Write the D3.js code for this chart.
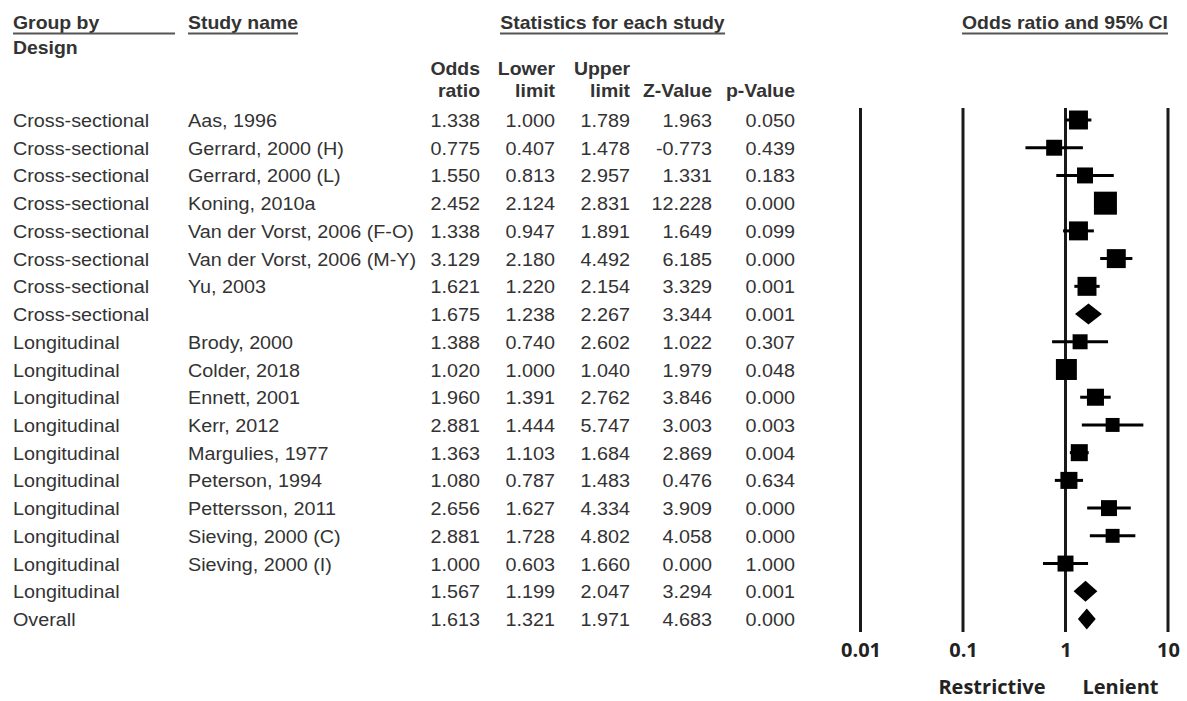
<!DOCTYPE html>
<html>
<head>
<meta charset="utf-8">
<script src="https://cdn.jsdelivr.net/npm/d3@7"></script>
<style>
  html, body { margin: 0; padding: 0; background: #ffffff; }
  svg { display: block; }
</style>
</head>
<body>
<svg id="forest" width="1187" height="701"></svg>
<script>
// ---- Data: meta-analysis of parenting (restrictive vs lenient), grouped by design ----
const designs = [
  "Cross-sectional", "Cross-sectional", "Cross-sectional", "Cross-sectional",
  "Cross-sectional", "Cross-sectional", "Cross-sectional", "Cross-sectional",
  "Longitudinal", "Longitudinal", "Longitudinal", "Longitudinal", "Longitudinal",
  "Longitudinal", "Longitudinal", "Longitudinal", "Longitudinal", "Longitudinal",
  "Overall"
];
const studyNames = [
  "Aas, 1996", "Gerrard, 2000 (H)", "Gerrard, 2000 (L)", "Koning, 2010a",
  "Van der Vorst, 2006 (F-O)", "Van der Vorst, 2006 (M-Y)", "Yu, 2003", "",
  "Brody, 2000", "Colder, 2018", "Ennett, 2001", "Kerr, 2012", "Margulies, 1977",
  "Peterson, 1994", "Pettersson, 2011", "Sieving, 2000 (C)", "Sieving, 2000 (I)", "",
  ""
];
const oddsRatio  = [1.338, 0.775, 1.550, 2.452, 1.338, 3.129, 1.621, 1.675, 1.388, 1.020, 1.960, 2.881, 1.363, 1.080, 2.656, 2.881, 1.000, 1.567, 1.613];
const lowerLimit = [1.000, 0.407, 0.813, 2.124, 0.947, 2.180, 1.220, 1.238, 0.740, 1.000, 1.391, 1.444, 1.103, 0.787, 1.627, 1.728, 0.603, 1.199, 1.321];
const upperLimit = [1.789, 1.478, 2.957, 2.831, 1.891, 4.492, 2.154, 2.267, 2.602, 1.040, 2.762, 5.747, 1.684, 1.483, 4.334, 4.802, 1.660, 2.047, 1.971];
const zValue     = [1.963, -0.773, 1.331, 12.228, 1.649, 6.185, 3.329, 3.344, 1.022, 1.979, 3.846, 3.003, 2.869, 0.476, 3.909, 4.058, 0.000, 3.294, 4.683];
const pValue     = [0.050, 0.439, 0.183, 0.000, 0.099, 0.000, 0.001, 0.001, 0.307, 0.048, 0.000, 0.003, 0.004, 0.634, 0.000, 0.000, 1.000, 0.001, 0.000];
// relative study weights (summary rows have none)
const relWeight  = [7.2, 5.1, 5.1, 10.6, 7.2, 7.2, 7.2, null, 4.5, 8.8, 5.8, 3.9, 5.8, 5.8, 5.1, 3.9, 5.1, null, null];

const axisTicks = [0.01, 0.1, 1, 10];
const axisTickLabels = ["0.01", "0.1", "1", "10"];
const directionLabels = ["Restrictive", "Lenient"];

const columnHeads = [
  { top: "Odds",  bottom: "ratio" },
  { top: "Lower", bottom: "limit" },
  { top: "Upper", bottom: "limit" },
  { top: "",      bottom: "Z-Value" },
  { top: "",      bottom: "p-Value" }
];

// ---- Layout ----
const svg = d3.select("#forest");
const bodyFont = "'Liberation Sans', Arial, sans-serif";
const bodySize = 17.5, bodySX = 1.13, headSX = 1.11;
const textColor = "#333";

const rows = d3.range(designs.length);
const y = d3.scalePoint().domain(rows).range([120, 619]);
const x = d3.scaleLog().domain([0.01, 10]).range([860.5, 1168]);
const side = d3.scaleSqrt().domain([0, 10.6]).range([0, 23]);

const colRight = [480, 555, 630, 712, 795];
const fmt = d3.formatLocale({ decimal: ".", thousands: ",", grouping: [3], currency: ["", ""], minus: "-" }).format(".3f");

function label(g, px, py, s, sx, anchor, bold) {
  return g.append("text")
    .attr("transform", `translate(${px},${py}) scale(${sx},1)`)
    .attr("text-anchor", anchor || "start")
    .attr("font-family", bodyFont)
    .attr("font-size", bodySize)
    .attr("font-weight", bold ? "bold" : "normal")
    .attr("fill", textColor)
    .text(s);
}

// ---- Header ----
const head = svg.append("g");
const underline = (x1, x2, yy) => head.append("line")
  .attr("x1", x1).attr("x2", x2).attr("y1", yy).attr("y2", yy)
  .attr("stroke", "#555").attr("stroke-width", 2);

label(head, 13, 29, "Group by", headSX, "start", true);
underline(13, 175, 33.5);
label(head, 13, 54, "Design", headSX, "start", true);

const studyHead = label(head, 188, 29, "Study name", headSX, "start", true);
underline(188, 188 + studyHead.node().getBBox().width * headSX, 33.5);

const statsHead = label(head, 612.5, 29, "Statistics for each study", headSX, "middle", true);
{
  const w = statsHead.node().getBBox().width * headSX;
  underline(612.5 - w / 2, 612.5 + w / 2, 33.5);
}

columnHeads.forEach((h, i) => {
  if (h.top) label(head, colRight[i], 75, h.top, headSX, "end", true);
  label(head, colRight[i], 97, h.bottom, headSX, "end", true);
});

const plotHead = label(head, 1065, 29, "Odds ratio and 95% CI", headSX, "middle", true);
{
  const w = plotHead.node().getBBox().width * headSX;
  underline(1065 - w / 2, 1065 + w / 2, 33.5);
}

// ---- Table body ----
const body = svg.append("g");
rows.forEach(i => {
  const by = y(i) + 7;
  label(body, 13, by, designs[i], bodySX);
  if (studyNames[i]) label(body, 188, by, studyNames[i], bodySX);
  [oddsRatio[i], lowerLimit[i], upperLimit[i], zValue[i], pValue[i]].forEach((v, c) => {
    label(body, colRight[c], by, fmt(v), bodySX, "end");
  });
});

// ---- Forest plot ----
const plot = svg.append("g");

// reference lines at each decade
plot.selectAll("line.ref")
  .data(axisTicks)
  .join("line")
  .attr("class", "ref")
  .attr("x1", d => x(d)).attr("x2", d => x(d))
  .attr("y1", 108).attr("y2", 632)
  .attr("stroke", "#1a1a1a").attr("stroke-width", 3);

const studyRows = rows.filter(i => relWeight[i] != null);
const summaryRows = rows.filter(i => relWeight[i] == null);

// confidence intervals
plot.selectAll("line.ci")
  .data(studyRows)
  .join("line")
  .attr("class", "ci")
  .attr("x1", i => x(lowerLimit[i])).attr("x2", i => x(upperLimit[i]))
  .attr("y1", i => y(i)).attr("y2", i => y(i))
  .attr("stroke", "#000").attr("stroke-width", 3);

// study point estimates, sized by weight
plot.selectAll("rect.est")
  .data(studyRows)
  .join("rect")
  .attr("class", "est")
  .attr("x", i => x(oddsRatio[i]) - side(relWeight[i]) / 2)
  .attr("y", i => y(i) - side(relWeight[i]) / 2)
  .attr("width", i => side(relWeight[i]))
  .attr("height", i => side(relWeight[i]))
  .attr("fill", "#000");

// pooled estimates as diamonds spanning the CI
const halfH = 10.5;
plot.selectAll("path.pooled")
  .data(summaryRows)
  .join("path")
  .attr("class", "pooled")
  .attr("d", i => {
    const yc = y(i);
    return `M${x(lowerLimit[i])},${yc} L${x(oddsRatio[i])},${yc - halfH} L${x(upperLimit[i])},${yc} L${x(oddsRatio[i])},${yc + halfH} Z`;
  })
  .attr("fill", "#000");

// axis labels
const axis = d3.axisBottom(x)
  .tickValues(axisTicks)
  .tickFormat((d, k) => axisTickLabels[k])
  .tickSize(0)
  .tickPadding(0);
const axisG = plot.append("g").attr("transform", "translate(0,643)").call(axis);
axisG.select(".domain").remove();
axisG.selectAll("text")
  .attr("dy", "0.71em")
  .attr("font-family", "'Open Sans', sans-serif")
  .attr("font-weight", "bold")
  .attr("font-size", 20)
  .attr("fill", "#222");

// direction labels either side of no effect
plot.append("text")
  .attr("x", x(1) - 20).attr("y", 694)
  .attr("text-anchor", "end")
  .attr("font-family", "'Open Sans', sans-serif")
  .attr("font-weight", "bold")
  .attr("font-size", 20)
  .attr("fill", "#222")
  .text(directionLabels[0]);
plot.append("text")
  .attr("x", x(1) + 17).attr("y", 694)
  .attr("text-anchor", "start")
  .attr("font-family", "'Open Sans', sans-serif")
  .attr("font-weight", "bold")
  .attr("font-size", 20)
  .attr("fill", "#222")
  .text(directionLabels[1]);
</script>
</body>
</html>
